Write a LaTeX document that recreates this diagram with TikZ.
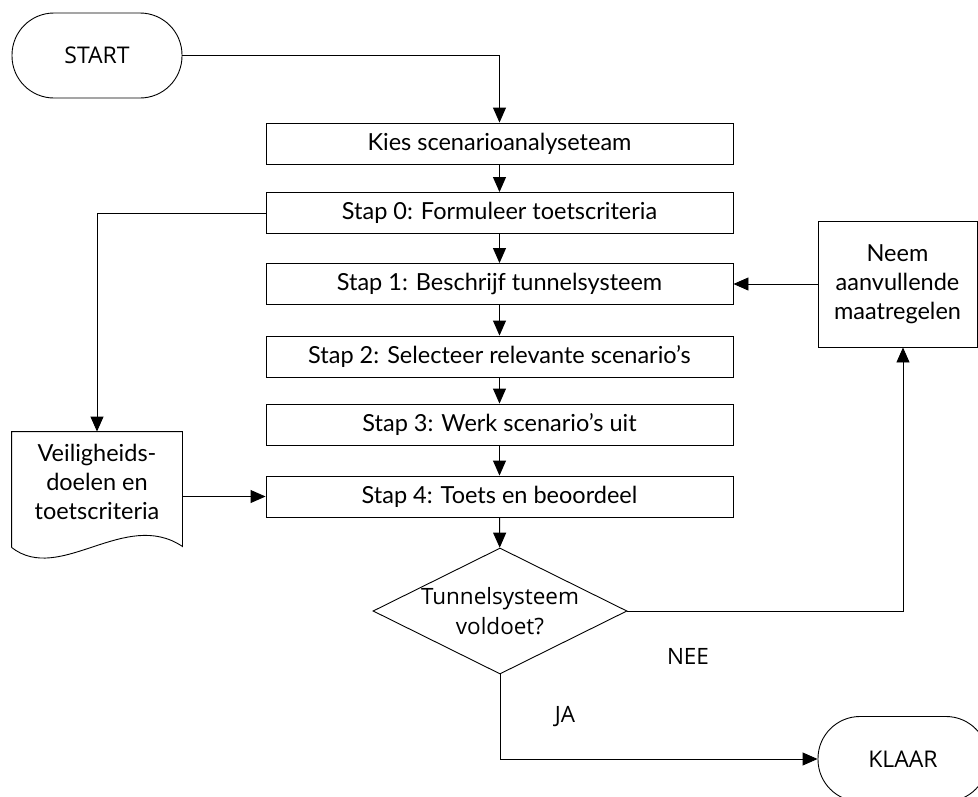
\documentclass[tikz,border=0pt]{standalone}
\usepackage{fontspec}
\setmainfont{Lato}
\newfontfamily\segoe{Open Sans}
\usetikzlibrary{shapes,arrows.meta,positioning}

\begin{document}
\begin{tikzpicture}[x=1pt, y=-1pt, line width=0.9pt, >={Triangle[length=15pt,width=13pt]},
    stepbox/.style={rectangle, draw, minimum width=467pt, minimum height=41pt, inner sep=0pt, font=\fontsize{23.5}{29}\selectfont},
    term/.style={rectangle, draw, rounded corners=42pt, minimum width=170pt, minimum height=85pt, inner sep=0pt, font=\segoe\fontsize{23}{28}\selectfont},
    lbl/.style={inner sep=0pt, font=\segoe\fontsize{22.5}{30}\selectfont}]
    \useasboundingbox (0,0) rectangle (978,796);

    % Define nodes
    \node[term] (start) at (97,55.5) {START};
    \node[stepbox] (kies) at (499.5,143.5) {Kies scenarioanalyseteam};
    \node[stepbox] (s0) at (499.5,213) {Stap 0: Formuleer toetscriteria};
    \node[stepbox] (s1) at (499.5,284) {Stap 1: Beschrijf tunnelsysteem};
    \node[stepbox] (s2) at (499.5,356.5) {Stap 2: Selecteer relevante scenario's};
    \node[stepbox] (s3) at (499.5,424.5) {Stap 3: Werk scenario's uit};
    \node[stepbox] (s4) at (499.5,496.5) {Stap 4: Toets en beoordeel};
    \node[diamond, draw, minimum width=254pt, minimum height=126pt, inner sep=0pt] (dia) at (500,611) {};
    \node[lbl, align=center] (diatxt) at (dia) {Tunnelsysteem\\voldoet?};
    \node[term] (klaar) at (903,759) {KLAAR};
    \node[stepbox, minimum width=159pt, minimum height=126pt, align=center] (neem) at (897.5,284) {Neem\\aanvullende\\maatregelen};
    \node[minimum width=170pt, minimum height=115pt, inner sep=0pt] (doc) at (97,489.5) {};
    \node[align=center, inner sep=0pt, font=\fontsize{23.5}{29}\selectfont] (doctxt) at (97,481.5) {Veiligheids-\\doelen en\\toetscriteria};
    \node[lbl] (nee) at (688,656) {NEE};
    \node[lbl] (ja) at (565,717) {JA};

    % Document shape with wavy bottom
    \draw (doc.south west) -- (doc.north west) -- (doc.north east) -- ([yshift=1pt]doc.south east)
        .. controls (125,508) and (60,585) .. (doc.south west);

    % Main flow
    \draw[->] (start.east) -| (kies.north);
    \draw[->] (kies) -- (s0);
    \draw[->] (s0) -- (s1);
    \draw[->] (s1) -- (s2);
    \draw[->] (s2) -- (s3);
    \draw[->] (s3) -- (s4);
    \draw[->] (s4) -- (dia);

    % Side branches
    \draw[->] (s0.west) -| (doc.north);
    \draw[->] (doc.east |- s4) -- (s4);
    \draw[->] (dia.east) -| ([xshift=5.5pt]neem.south);
    \draw[->] (neem) -- (s1);
    \draw[->] (dia.south) |- (klaar.west);
\end{tikzpicture}
\end{document}
